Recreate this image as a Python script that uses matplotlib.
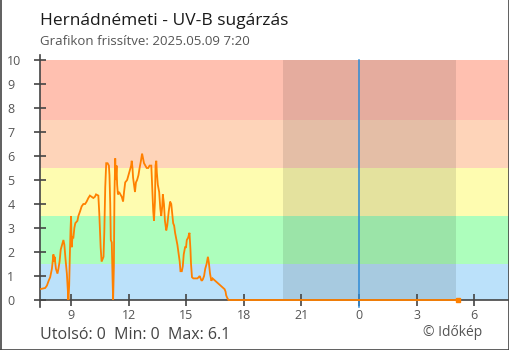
import matplotlib
matplotlib.use("Agg")
import matplotlib.pyplot as plt

plt.rcParams['font.family'] = ['Open Sans', 'DejaVu Sans']

# UV-B readings (hours since midnight of the first day, index value)
hours = [7.43, 7.65, 7.74, 7.83, 7.91, 8.00, 8.05, 8.08, 8.12, 8.14, 8.21, 8.29,
         8.34, 8.40, 8.46, 8.53, 8.60, 8.65, 8.71, 8.78, 8.83, 8.86, 8.90, 8.93,
         8.97, 9.00, 9.03, 9.07, 9.12, 9.17, 9.22, 9.33, 9.38, 9.47, 9.55, 9.64,
         9.73, 9.81, 9.90, 9.98, 10.07, 10.16, 10.24, 10.30, 10.42, 10.47, 10.54,
         10.59, 10.64, 10.69, 10.73, 10.78, 10.83, 10.90, 10.97, 11.00, 11.04,
         11.07, 11.12, 11.16, 11.19, 11.23, 11.26, 11.30, 11.33, 11.37, 11.40,
         11.44, 11.50, 11.57, 11.64, 11.71, 11.76, 11.82, 11.92, 11.99, 12.06,
         12.13, 12.16, 12.20, 12.23, 12.28, 12.33, 12.38, 12.44, 12.51, 12.57,
         12.64, 12.70, 12.75, 12.80, 12.87, 12.94, 13.02, 13.09, 13.18, 13.23,
         13.28, 13.32, 13.37, 13.40, 13.44, 13.47, 13.52, 13.59, 13.65, 13.70,
         13.75, 13.78, 13.84, 13.89, 13.96, 14.01, 14.09, 14.16, 14.22, 14.27,
         14.32, 14.37, 14.42, 14.47, 14.54, 14.61, 14.66, 14.70, 14.77, 14.82,
         14.87, 14.94, 14.99, 15.03, 15.10, 15.17, 15.22, 15.25, 15.30, 15.37,
         15.44, 15.51, 15.58, 15.65, 15.70, 15.75, 15.80, 15.86, 15.93, 15.99,
         16.06, 16.13, 16.18, 16.24, 16.31, 16.37, 16.44, 16.51, 16.58, 16.65,
         16.72, 16.79, 16.86, 16.93, 17.00, 17.05, 17.08, 17.13, 17.20, 29.17]
uvb = [0.46, 0.5, 0.6, 0.8, 0.95, 1.3, 1.65, 1.9, 1.6, 1.8, 1.3, 1.1,
       1.3, 1.6, 2.1, 2.3, 2.5, 2.3, 1.7, 1.1, 0.4, 0.0, 0.6, 1.7,
       2.9, 3.5, 2.2, 2.6, 2.6, 3.0, 3.2, 3.3, 3.5, 3.7, 3.9, 4.0,
       4.0, 4.1, 4.25, 4.35, 4.3, 4.25, 4.3, 4.4, 4.35, 3.6, 2.2,
       1.6, 1.7, 1.8, 2.8, 4.7, 5.7, 5.7, 5.6, 5.2, 4.0,
       2.5, 2.4, 0.9, 0.0, 1.4, 4.4, 5.9, 5.0, 5.6, 4.8,
       4.4, 4.5, 4.4, 4.3, 4.1, 4.5, 4.9, 5.0, 5.2, 5.4,
       5.6, 5.8, 5.5, 5.1, 4.8, 4.5, 4.9, 5.0, 5.2, 5.5,
       5.8, 6.1, 5.9, 5.7, 5.6, 5.5, 5.5, 5.6, 5.6, 4.6,
       3.7, 3.3, 4.1, 5.6, 5.8, 5.3, 4.8, 4.5, 3.8, 3.5,
       3.9, 4.4, 4.0, 3.3, 2.9, 3.1, 3.7, 4.1, 4.0, 3.6,
       3.2, 3.1, 2.8, 2.6, 2.3, 1.9, 1.6, 1.2, 1.2, 1.4,
       1.9, 2.2, 2.2, 2.5, 2.6, 2.8, 2.1, 1.5, 0.95, 0.9,
       0.9, 0.9, 0.9, 0.95, 1.0, 0.9, 0.8, 0.85, 1.0, 1.3,
       1.5, 1.8, 1.55, 1.1, 0.8, 0.9, 0.85, 0.8, 0.75, 0.7,
       0.65, 0.6, 0.55, 0.5, 0.45, 0.35, 0.2, 0.1, 0.0, 0.0]

# UV risk bands: (lower, upper, colour)
band_edges = [0, 1.5, 3.5, 5.5, 7.5, 10]
band_colors = ['#bbe1fa', '#adfebc', '#fefcb0', '#fed4b9', '#ffc0b0']

night_start, night_end = 20.05, 29.07
midnight = 24.0
x_range = (7.38, 31.82)
tick_hours = [9, 12, 15, 18, 21, 24, 27, 30]
tick_labels = [str(h % 24) for h in tick_hours]
y_ticks = list(range(0, 11))

W, H = 510, 350
fig = plt.figure(figsize=(W / 100, H / 100), dpi=100)
fig.patch.set_facecolor('white')

ax = fig.add_axes([40 / W, 50 / H, 469 / W, 240 / H])
ax.set_xlim(*x_range)
ax.set_ylim(0, 10)

for lo, hi, c in zip(band_edges[:-1], band_edges[1:], band_colors):
    ax.axhspan(lo, hi, color=c, lw=0, zorder=0)
ax.axvspan(night_start, night_end, color='black', alpha=0.1, lw=0, zorder=1)
ax.axvline(midnight, ymin=-0.03, ymax=1, color='#2e8bd6', lw=1.1, zorder=3,
           clip_on=False)

ax.plot(hours, uvb, color='#ff8000', lw=1.3, zorder=5, clip_on=False,
        solid_joinstyle='miter')
ax.plot(hours[-1], uvb[-1], marker='s', ms=3, color='#ff8000', zorder=5,
        clip_on=False)

for s in ['top', 'right', 'left']:
    ax.spines[s].set_visible(False)
ax.spines['bottom'].set_color('#444444')
ax.spines['bottom'].set_linewidth(1.2)
ax.spines['bottom'].set_zorder(4)
ax.plot([0, 0], [-0.03, 1.02], transform=ax.transAxes, color='#444444',
        lw=1.2, clip_on=False, zorder=4)

ax.set_xticks(tick_hours)
ax.set_xticklabels(tick_labels)
ax.set_yticks(y_ticks)
ax.set_yticklabels([str(v) for v in y_ticks])
ax.tick_params(axis='both', direction='inout', length=9, width=1.2,
               color='#444444', labelcolor='#555555', labelsize=9)
ax.tick_params(axis='x', pad=2)
ax.tick_params(axis='y', pad=19)
for lab in ax.get_yticklabels():
    lab.set_horizontalalignment('left')

fig.text(40 / W, 1 - 25 / H, 'Hernádnémeti - UV-B sugárzás', fontsize=12.5,
         color='#1a1a1a', va='baseline', ha='left')
fig.text(40 / W, 1 - 45 / H, 'Grafikon frissítve: 2025.05.09 7:20',
         fontsize=9.5, color='#555555', va='baseline', ha='left')
fig.text(40 / W, 1 - 339 / H, 'Utolsó: 0  Min: 0  Max: 6.1', fontsize=11.5,
         color='#444444', va='baseline', ha='left')
fig.text(482 / W, 1 - 336 / H, '© Időkép', fontsize=10, color='#555555',
         va='baseline', ha='right')

# outer frame
for xs, ys in [([0.5, 0.5], [0, H]), ([W - 0.5, W - 0.5], [0, H]),
               ([0, W], [0.5, 0.5])]:
    fig.add_artist(plt.Line2D([x / W for x in xs], [y / H for y in ys],
                              color='#444444', lw=1.2))

fig.savefig('out.png', dpi=100)
